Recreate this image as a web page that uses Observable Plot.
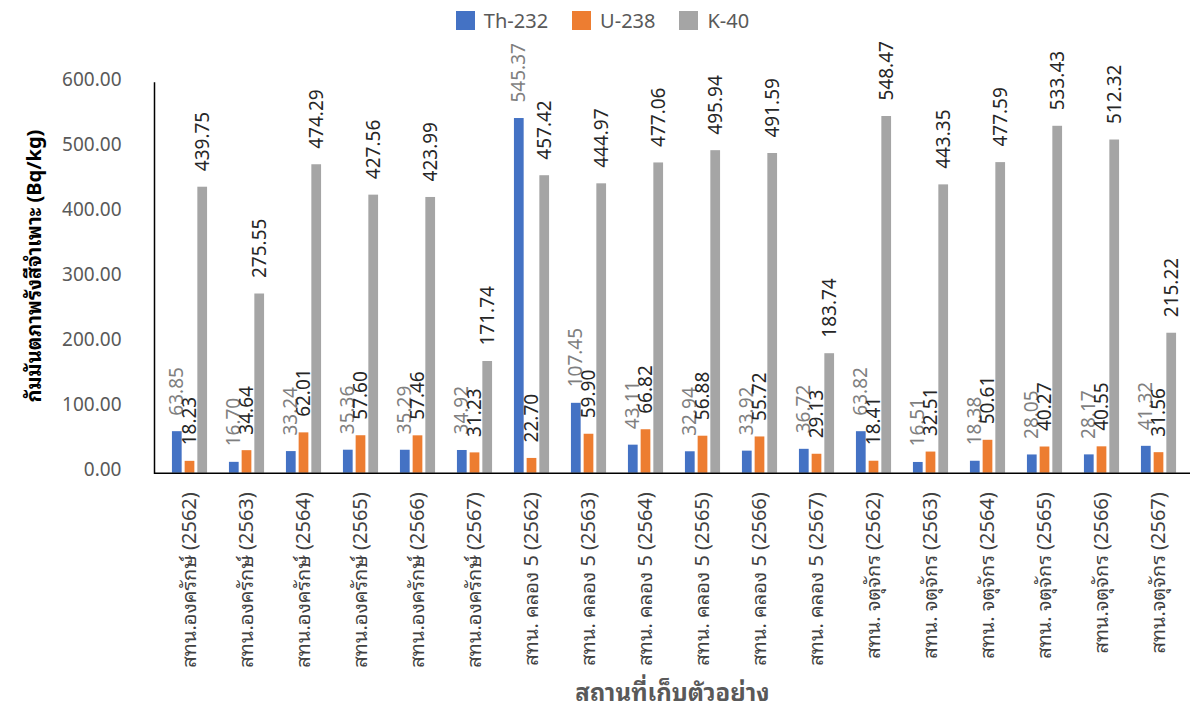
<!DOCTYPE html>
<html>
<head>
<meta charset="utf-8">
<script src="https://cdn.jsdelivr.net/npm/d3@7"></script>
<script src="https://cdn.jsdelivr.net/npm/@observablehq/plot@0.6"></script>
<style>
  html, body { margin: 0; padding: 0; background: #fff; }
  body { width: 1190px; height: 718px; overflow: hidden; font-family: "Noto Sans", "Noto Sans Thai Looped", "Loma", "Waree", "Garuda", "Noto Sans Thai", sans-serif; }
  #legend { height: 36px; box-sizing: border-box; padding-top: 4px; padding-left: 15px; display: flex; justify-content: center; align-items: center; font-size: 20px; color: #595959; }
  #legend .item { display: flex; align-items: center; margin: 0 12px; }
  #legend .sw { width: 19px; height: 19px; margin-right: 9px; }
</style>
</head>
<body>
<div id="legend"></div>
<div id="chart"></div>
<script>
const locations = [
  "สทน.องครักษ์ (2562)", "สทน.องครักษ์ (2563)", "สทน.องครักษ์ (2564)",
  "สทน.องครักษ์ (2565)", "สทน.องครักษ์ (2566)", "สทน.องครักษ์ (2567)",
  "สทน. คลอง 5 (2562)", "สทน. คลอง 5 (2563)", "สทน. คลอง 5 (2564)",
  "สทน. คลอง 5 (2565)", "สทน. คลอง 5 (2566)", "สทน. คลอง 5 (2567)",
  "สทน. จตุจักร (2562)", "สทน. จตุจักร (2563)", "สทน. จตุจักร (2564)",
  "สทน. จตุจักร (2565)", "สทน.จตุจักร (2566)", "สทน.จตุจักร (2567)"
];
const th232 = [63.85, 16.70, 33.24, 35.36, 35.29, 34.92, 545.37, 107.45, 43.11, 32.94, 33.92, 36.72, 63.82, 16.51, 18.38, 28.05, 28.17, 41.32];
const u238  = [18.23, 34.64, 62.01, 57.60, 57.46, 31.23, 22.70, 59.90, 66.82, 56.88, 55.72, 29.13, 18.41, 32.51, 50.61, 40.27, 40.55, 31.56];
const k40   = [439.75, 275.55, 474.29, 427.56, 423.99, 171.74, 457.42, 444.97, 477.06, 495.94, 491.59, 183.74, 548.47, 443.35, 477.59, 533.43, 512.32, 215.22];
const seriesNames = ["Th-232", "U-238", "K-40"];
const seriesColors = ["#4472C4", "#ED7D31", "#A5A5A5"];
const labelColors = ["#7f7f7f", "#262626", "#262626"];
const yTicks = [0, 100, 200, 300, 400, 500, 600];
const yTitle = "กัมมันตภาพรังสีจำเพาะ (Bq/kg)";
const xTitle = "สถานที่เก็บตัวอย่าง";

const FONT = '"Noto Sans", "Noto Sans Thai Looped", "Loma", "Waree", "Garuda", "Noto Sans Thai", sans-serif';

// legend
const legend = document.getElementById("legend");
seriesNames.forEach((n, i) => {
  const it = document.createElement("div"); it.className = "item";
  const sw = document.createElement("div"); sw.className = "sw"; sw.style.background = seriesColors[i];
  const t = document.createElement("span"); t.textContent = n;
  it.appendChild(sw); it.appendChild(t); legend.appendChild(it);
});

const seriesValues = [th232, u238, k40];
const rows = locations.map((loc, i) => ({loc, v: seriesValues.map(s => s[i])}));

const W = 1190, H = 682;
const xRange = [154, 1194];
const step = (xRange[1] - xRange[0]) / locations.length;
const barW = 10.5, offset = 12.7;
const inset = (step - barW) / 2;

const marks = [];
seriesValues.forEach((vals, s) => {
  const dx = (s - 1) * offset;
  marks.push(Plot.barY(rows, {x: "loc", y: d => d.v[s], fill: seriesColors[s], dx, insetLeft: inset, insetRight: inset}));
});
seriesValues.forEach((vals, s) => {
  const dx = (s - 1) * offset;
  marks.push(Plot.text(rows, {x: "loc", y: d => d.v[s], text: d => d.v[s].toFixed(2), rotate: -90, textAnchor: "start", lineAnchor: "middle", dx, dy: -16, fill: labelColors[s], fontSize: 19}));
});
marks.push(Plot.ruleY([0], {stroke: "#000", strokeWidth: 1.5}));
marks.push(Plot.frame({anchor: "left", stroke: "#000", strokeWidth: 1.5}));
marks.push(Plot.axisY({ticks: yTicks, tickFormat: d => d.toFixed(2), tickSize: 0, tickPadding: 33, fontSize: 19, color: "#595959", dy: -3, label: null}));
marks.push(Plot.text(locations, {x: d => d, frameAnchor: "bottom", rotate: -90, textAnchor: "end", lineAnchor: "middle", dy: 19, fontSize: 20, fill: "#404040"}));
marks.push(Plot.text([yTitle], {frameAnchor: "left", rotate: -90, textAnchor: "middle", lineAnchor: "bottom", dx: -114, dy: -12, fontSize: 20, fontWeight: "bold", fill: "#000"}));
marks.push(Plot.text([xTitle], {frameAnchor: "bottom", textAnchor: "middle", lineAnchor: "middle", dy: 220, fontSize: 24, fontWeight: "bold", fill: "#595959"}));

const chart = Plot.plot({
  width: W,
  height: H,
  marginTop: 46.5,
  marginBottom: 245.3,
  marginLeft: 154,
  marginRight: 0,
  style: {fontFamily: FONT, background: "#fff", overflow: "visible"},
  x: {type: "band", domain: locations, range: xRange, padding: 0, axis: null},
  y: {domain: [0, 600], axis: null},
  marks
});
document.getElementById("chart").appendChild(chart);
</script>
</body>
</html>
